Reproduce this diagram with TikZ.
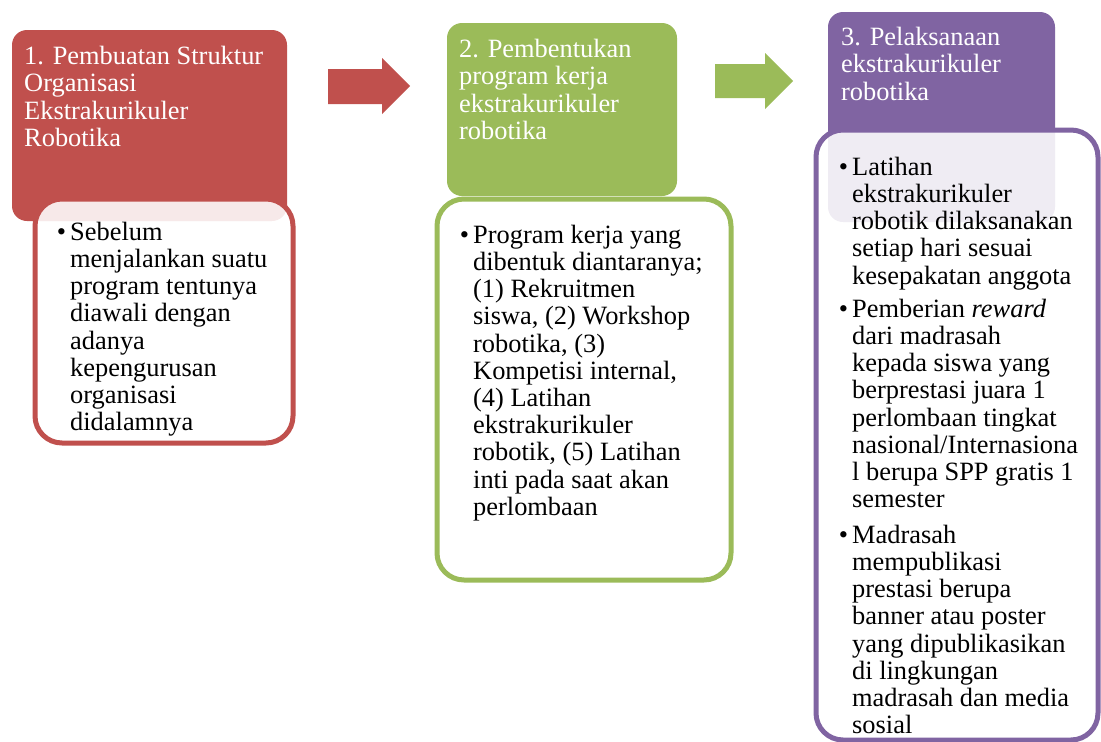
\documentclass[tikz,border=0pt]{standalone}
\usepackage{fontspec}
\setmainfont{Liberation Serif}
\definecolor{cred}{HTML}{C0504D}
\definecolor{cgreen}{HTML}{9BBB59}
\definecolor{cpurple}{HTML}{8064A2}
\begin{document}
\begin{tikzpicture}[x=1pt,y=-1pt,
  hdr/.style={rounded corners=15pt},
  inbox/.style={rounded corners=27pt, line width=5pt, fill=white, fill opacity=0.88, draw opacity=1},
  ttl/.style={anchor=north west, yshift=19.25pt, align=left, inner sep=0pt, text=white, font=\fontsize{26.4}{27.5}\selectfont},
  body/.style={anchor=north west, yshift=19.04pt, align=left, inner sep=0pt, text=black, font=\fontsize{26.4}{27.2}\selectfont},
  blk/.style={draw=none}
]
\useasboundingbox (0,0) rectangle (1101,742);

% headers
\fill[hdr, cred] (12,30) rectangle (287,221);
\fill[hdr, cgreen] (447,23) rectangle (677,196);
\fill[hdr, cpurple] (828,12) rectangle (1055,222);

% block arrows
\fill[blk, cred] (328,69) -- (382,69) -- (382,58) -- (410,86) -- (382,114) -- (382,104) -- (328,104) -- cycle;
\fill[blk, cgreen] (715,64) -- (765,64) -- (765,53) -- (793,81) -- (765,109) -- (765,98) -- (715,98) -- cycle;

% titles
\node[ttl] (t1) at (24,64) {\strut 1. Pembuatan Struktur\\Organisasi\\Ekstrakurikuler\\Robotika};
\node[ttl] (t2) at (459,57) {\strut 2. Pembentukan\\program kerja\\ekstrakurikuler\\robotika};
\node[ttl] (t3) at (841,45) {\strut 3. Pelaksanaan\\ekstrakurikuler\\robotika};

% inner boxes
\path[inbox, draw=cred] (35,199) rectangle (293,443);
\path[inbox, draw=cgreen] (437,199) rectangle (731,580);
\path[inbox, draw=cpurple] (816,130) rectangle (1098,740);

% body texts
\node[body] (b1) at (70,240) {\strut\llap{\textbullet\hspace{4pt}}Sebelum\\menjalankan suatu\\program tentunya\\diawali dengan\\adanya\\kepengurusan\\organisasi\\didalamnya};
\node[body] (b2) at (473,243) {\strut\llap{\textbullet\hspace{4pt}}Program kerja yang\\dibentuk diantaranya;\\(1) Rekruitmen\\siswa, (2) Workshop\\robotika, (3)\\Kompetisi internal,\\(4) Latihan\\ekstrakurikuler\\robotik, (5) Latihan\\inti pada saat akan\\perlombaan};
\node[body] (b3a) at (852,175) {\strut\llap{\textbullet\hspace{4pt}}Latihan\\ekstrakurikuler\\robotik dilaksanakan\\setiap hari sesuai\\kesepakatan anggota};
\node[body] (b3b) at (852,317) {\strut\llap{\textbullet\hspace{4pt}}Pemberian \textit{reward}\\dari madrasah\\kepada siswa yang\\berprestasi juara 1\\perlombaan tingkat\\nasional/Internasiona\\l berupa SPP gratis 1\\semester};
\node[body] (b3c) at (852,543) {\strut\llap{\textbullet\hspace{4pt}}Madrasah\\mempublikasi\\prestasi berupa\\banner atau poster\\yang dipublikasikan\\di lingkungan\\madrasah dan media\\sosial};
\end{tikzpicture}
\end{document}
